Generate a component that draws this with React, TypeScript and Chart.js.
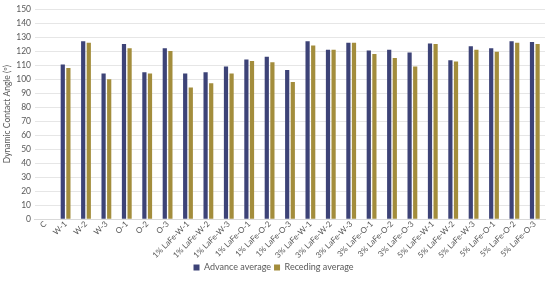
import React, { useEffect, useRef } from "react";
import { Chart, registerables } from "chart.js";

Chart.register(...registerables);

const categories = [
  "C", "W-1", "W-2", "W-3", "O-1", "O-2", "O-3",
  "1% LaFe-W-1", "1% LaFe-W-2", "1% LaFe-W-3", "1% LaFe-O-1", "1% LaFe-O-2", "1% LaFe-O-3",
  "3% LaFe-W-1", "3% LaFe-W-2", "3% LaFe-W-3", "3% LaFe-O-1", "3% LaFe-O-2", "3% LaFe-O-3",
  "5% LaFe-W-1", "5% LaFe-W-2", "5% LaFe-W-3", "5% LaFe-O-1", "5% LaFe-O-2", "5% LaFe-O-3",
];

const advanceAverage = [
  0, 110.5, 127, 104, 125, 105, 122,
  104, 105, 109, 114, 116, 106.5,
  127, 121, 126, 120.5, 121, 119,
  125.5, 113.5, 123.5, 122, 127, 126.5,
];

const recedingAverage = [
  0, 108, 126, 100, 122, 104, 120,
  94, 97, 104, 113, 112, 98,
  124, 121, 126, 118, 115, 109,
  125, 112.5, 121, 119.5, 126, 125,
];

const yTicks = { min: 0, max: 150, step: 10 };

const FONT = "Lato, 'Open Sans', sans-serif";

export default function App() {
  const ref = useRef<HTMLCanvasElement | null>(null);

  useEffect(() => {
    document.body.style.margin = "0";
    const canvas = ref.current;
    if (!canvas) return;
    const chart = new Chart(canvas, {
      type: "bar",
      data: {
        labels: categories,
        datasets: [
          {
            label: "Advance average",
            data: advanceAverage,
            backgroundColor: "#3d4377",
            categoryPercentage: 0.55,
            barPercentage: 0.75,
          },
          {
            label: "Receding average",
            data: recedingAverage,
            backgroundColor: "#a38d3c",
            categoryPercentage: 0.55,
            barPercentage: 0.75,
          },
        ],
      },
      options: {
        animation: false,
        responsive: false,
        maintainAspectRatio: false,
        layout: { padding: { left: 2, right: 5, top: 2, bottom: 0 } },
        plugins: {
          tooltip: { enabled: false },
          legend: {
            position: "bottom",
            labels: {
              boxWidth: 6,
              boxHeight: 6,
              padding: 3,
              color: "#595959",
              font: { family: FONT, size: 9 },
            },
          },
        },
        scales: {
          x: {
            grid: { display: false, drawTicks: false },
            border: { display: true, color: "#d9d9d9" },
            ticks: {
              color: "#595959",
              font: { family: FONT, size: 8 },
              minRotation: 45,
              maxRotation: 45,
              autoSkip: false,
              padding: 0,
            },
          },
          y: {
            min: yTicks.min,
            max: yTicks.max,
            grid: { color: "#e6e6e6", drawTicks: false },
            border: { display: false },
            ticks: {
              stepSize: yTicks.step,
              autoSkip: false,
              color: "#595959",
              font: { family: FONT, size: 8.5 },
              padding: 4,
            },
            title: {
              display: true,
              text: "Dynamic Contact Angle (º)",
              color: "#595959",
              font: { family: FONT, size: 8.5 },
              padding: 0,
            },
          },
        },
      },
    });
    return () => chart.destroy();
  }, []);

  return (
    <div style={{ position: "fixed", left: 0, top: 0, width: 550, height: 282, background: "#fff" }}>
      <canvas ref={ref} width={550} height={282} style={{ width: 550, height: 282 }} />
    </div>
  );
}
